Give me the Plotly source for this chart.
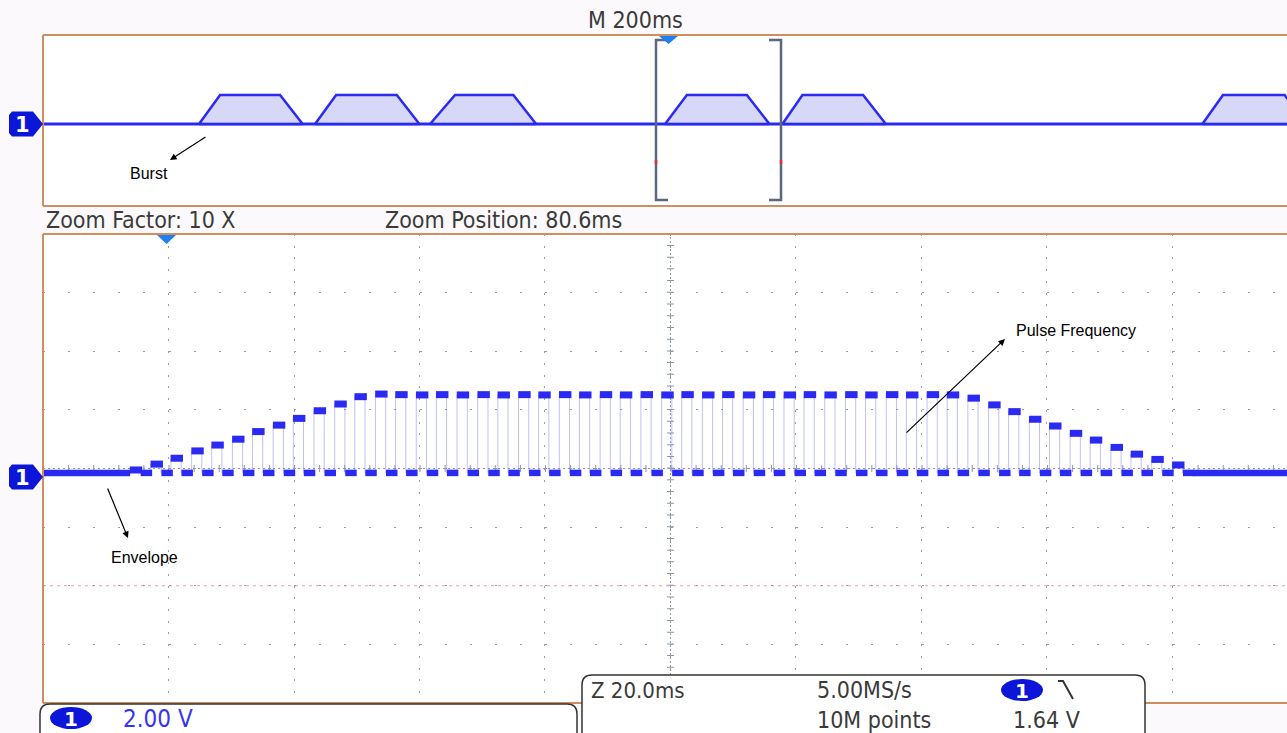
import plotly.graph_objects as go

W, H = 1287, 733

# ---------------- data ----------------
# Main (top) window, 200 ms/div, times in ms relative to trigger
burst_rise_start_ms = [-747.4, -562.5, -379.3, -4.8, 182.1, 851.2]
burst_top_start_ms = [-713.9, -529.0, -339.5, 29.8, 214.0, 884.0]
burst_top_end_ms = [-618.3, -432.3, -246.6, 125.4, 310.6, 982.4]
burst_fall_end_ms = [-582.3, -396.3, -210.4, 161.5, 346.8, 1015.9]
burst_high_v = 2.51
baseline_v = -0.15

# Zoom window (20 ms/div): centre time of each pulse (ms) and its high level (V)
pulse_time_ms = [-4.7, -1.4, 1.8, 5.1, 8.3, 11.6, 14.8, 18.1, 21.3, 24.6,
                 27.9, 31.1, 34.4, 37.6, 40.9, 44.1, 47.4, 50.7, 53.9, 57.2,
                 60.4, 63.7, 66.9, 70.2, 73.4, 76.7, 80.0, 83.2, 86.5, 89.7,
                 93.0, 96.2, 99.5, 102.7, 106.0, 109.3, 112.5, 115.8, 119.0, 122.3,
                 125.5, 128.8, 132.1, 135.3, 138.6, 141.8, 145.1, 148.3, 151.6, 154.8,
                 158.1, 161.4]
pulse_high_v = [-0.05, 0.15, 0.35, 0.60, 0.80, 1.00, 1.26, 1.48, 1.71, 1.97,
                2.20, 2.45, 2.54, 2.52, 2.51, 2.52, 2.51, 2.52, 2.51, 2.52,
                2.51, 2.52, 2.51, 2.52, 2.51, 2.52, 2.51, 2.52, 2.51, 2.52,
                2.51, 2.52, 2.51, 2.52, 2.51, 2.52, 2.51, 2.52, 2.51, 2.52,
                2.51, 2.40, 2.17, 1.94, 1.68, 1.45, 1.20, 0.97, 0.72, 0.49,
                0.31, 0.12]
pulse_period_ms = 3.256

top_range_ms = [-996, 986]
zoom_range_ms = [-19.4, 178.85]
zoom_center_ms = 80.6

# ---------------- helpers ----------------
def X(px):
    return px / W


def Y(py):
    return 1 - py / H


BLUE = '#2a2af2'
ORANGE = '#cf8e60'
TXT = '#3a3a3a'
SCOPE_FONT = 'DejaVu Sans Condensed, Liberation Sans Narrow, DejaVu Sans, sans-serif'

fig = go.Figure()

# ---------------- top window ----------------
fig.add_trace(go.Scatter(x=top_range_ms, y=[baseline_v, baseline_v], mode='lines',
                         line=dict(color=BLUE, width=3), xaxis='x', yaxis='y',
                         hoverinfo='skip'))
bx, by = [], []
for s, ts, te, e in zip(burst_rise_start_ms, burst_top_start_ms, burst_top_end_ms, burst_fall_end_ms):
    bx += [s, ts, te, e, s, None]
    by += [baseline_v, burst_high_v, burst_high_v, baseline_v, baseline_v, None]
fig.add_trace(go.Scatter(x=bx, y=by, mode='lines', fill='toself',
                         fillcolor='rgba(208,208,246,0.85)',
                         line=dict(color=BLUE, width=2.5), xaxis='x', yaxis='y',
                         hoverinfo='skip'))

# ---------------- zoom window ----------------
q = pulse_period_ms / 4
x0, x1 = zoom_range_ms
thin_x, thin_y = [x0], [baseline_v]
hi_x, hi_y, lo_x, lo_y = [], [], [], []
for c, h in zip(pulse_time_ms, pulse_high_v):
    thin_x += [c - q, c - q, c + q, c + q]
    thin_y += [baseline_v, h, h, baseline_v]
    hi_x += [c - q - 0.05, c + q + 0.3, None]
    hi_y += [h, h, None]
    lo_x += [c + q + 0.05, c + 3 * q + 0.25, None]
    lo_y += [baseline_v, baseline_v, None]
thin_x.append(x1)
thin_y.append(baseline_v)
lo_x += [x0, pulse_time_ms[0] - q, None, pulse_time_ms[-1] + 3 * q, x1]
lo_y += [baseline_v, baseline_v, None, baseline_v, baseline_v]

fig.add_trace(go.Scatter(x=thin_x, y=thin_y, mode='lines',
                         line=dict(color='rgba(130,130,250,0.5)', width=1),
                         xaxis='x2', yaxis='y2', hoverinfo='skip'))
fig.add_trace(go.Scatter(x=lo_x, y=lo_y, mode='lines',
                         line=dict(color=BLUE, width=6.5), xaxis='x2', yaxis='y2',
                         hoverinfo='skip'))
fig.add_trace(go.Scatter(x=hi_x, y=hi_y, mode='lines',
                         line=dict(color=BLUE, width=7), xaxis='x2', yaxis='y2',
                         hoverinfo='skip'))

# ---------------- shapes ----------------
shapes = []
GRIDC = '#9a9aa0'
# centre cross lines
shapes.append(dict(type='line', xref='x2', yref='y2', x0=zoom_center_ms, x1=zoom_center_ms,
                   y0=-8, y1=8, layer='below', line=dict(color='#8a94b4', width=1, dash='2px,2px')))
shapes.append(dict(type='line', xref='x2', yref='y2', x0=zoom_center_ms, x1=zoom_center_ms,
                   y0=-8, y1=8, layer='below', line=dict(color='#8a94b4', width=7, dash='1px,10.72px')))
shapes.append(dict(type='line', xref='x2', yref='y2', x0=x0, x1=x1, y0=0, y1=0,
                   layer='below', line=dict(color='#8a94b4', width=1, dash='2px,3px')))
shapes.append(dict(type='line', xref='x2', yref='y2', x0=x0, x1=x1, y0=0, y1=0,
                   layer='below', line=dict(color='#8a94b4', width=7, dash='1px,24.1px')))
# reddish reference row
shapes.append(dict(type='line', xref='x2', yref='y2', x0=x0, x1=x1, y0=-4, y1=-4,
                   layer='below', line=dict(color='#e8a0a0', width=1, dash='3px,4px')))

# panel borders
for (ya, yb) in [(35, 206), (234, 703)]:
    shapes.append(dict(type='line', xref='paper', yref='paper', x0=X(43), x1=1, y0=Y(ya), y1=Y(ya),
                       line=dict(color=ORANGE, width=2)))
    shapes.append(dict(type='line', xref='paper', yref='paper', x0=X(43), x1=1, y0=Y(yb), y1=Y(yb),
                       line=dict(color=ORANGE, width=2)))
    shapes.append(dict(type='line', xref='paper', yref='paper', x0=X(43), x1=X(43), y0=Y(ya), y1=Y(yb),
                       line=dict(color=ORANGE, width=2)))


def path(pts, close=True):
    s = 'M ' + ' L '.join(f'{X(a):.5f},{Y(b):.5f}' for a, b in pts)
    return s + (' Z' if close else '')


# zoom brackets in top window
BR = '#5b6683'
shapes.append(dict(type='path', xref='paper', yref='paper',
                   path=path([(668, 40), (656, 40), (656, 200), (668, 200)], close=False),
                   line=dict(color=BR, width=2.5)))
shapes.append(dict(type='path', xref='paper', yref='paper',
                   path=path([(769, 40), (781, 40), (781, 200), (769, 200)], close=False),
                   line=dict(color=BR, width=2.5)))
for bxp in (656, 781):
    shapes.append(dict(type='line', xref='paper', yref='paper', x0=X(bxp), x1=X(bxp),
                       y0=Y(160), y1=Y(164), line=dict(color='#e03030', width=2.5)))

# trigger markers
TRIG = '#1f80f0'
shapes.append(dict(type='path', xref='paper', yref='paper',
                   path=path([(659, 36), (678, 36), (668.5, 44)]), fillcolor=TRIG, line=dict(width=0)))
shapes.append(dict(type='path', xref='paper', yref='paper',
                   path=path([(157, 235), (176, 235), (166.5, 244)]), fillcolor=TRIG, line=dict(width=0)))

# channel markers
CH = '#0b16d8'
for cy in (124, 477):
    shapes.append(dict(type='path', xref='paper', yref='paper',
                       path=path([(12, cy - 12.5), (33, cy - 12.5), (43, cy), (33, cy + 12.5),
                                  (12, cy + 12.5), (9, cy + 9), (9, cy - 9)]),
                       fillcolor=CH, line=dict(width=0)))


# info boxes (rounded)
def rbox(l, t, r, b, rad):
    rx, ry = rad / W, rad / H
    L, T, R, B = X(l), Y(t), X(r), Y(b)
    return (f'M {L + rx:.5f},{T:.5f} L {R - rx:.5f},{T:.5f} Q {R:.5f},{T:.5f} {R:.5f},{T - ry:.5f} '
            f'L {R:.5f},{B + ry:.5f} Q {R:.5f},{B:.5f} {R - rx:.5f},{B:.5f} '
            f'L {L + rx:.5f},{B:.5f} Q {L:.5f},{B:.5f} {L:.5f},{B + ry:.5f} '
            f'L {L:.5f},{T - ry:.5f} Q {L:.5f},{T:.5f} {L + rx:.5f},{T:.5f} Z')


shapes.append(dict(type='path', xref='paper', yref='paper', path=rbox(40, 704, 577, 745, 10),
                   fillcolor='white', line=dict(color='#333333', width=1.5)))
shapes.append(dict(type='path', xref='paper', yref='paper', path=rbox(582, 675, 1145, 745, 10),
                   fillcolor='white', line=dict(color='#333333', width=1.5)))
# channel ovals
for cx, cy in [(71, 718), (1022, 690)]:
    shapes.append(dict(type='circle', xref='paper', yref='paper', x0=X(cx - 21), x1=X(cx + 21),
                       y0=Y(cy + 11), y1=Y(cy - 11), fillcolor=CH, line=dict(width=0)))
# falling-edge symbol
shapes.append(dict(type='path', xref='paper', yref='paper',
                   path=path([(1058, 681), (1063, 681), (1073, 699)], close=False),
                   line=dict(color='#333333', width=2)))

# ---------------- annotations ----------------
ann = []


def txt(s, px, py, size=23, color=TXT, xanchor='left', family=SCOPE_FONT, bold=False):
    ann.append(dict(text=f'<b>{s}</b>' if bold else s, x=X(px), y=Y(py), xref='paper', yref='paper',
                    xanchor=xanchor, yanchor='middle', showarrow=False,
                    font=dict(family=family, size=size, color=color)))


txt('M 200ms', 635, 20, xanchor='center')
txt('Zoom Factor: 10 X', 44, 220)
txt('Zoom Position: 80.6ms', 383, 220)
txt('2.00 V', 121, 719, color='#3535f0', size=24)
txt('Z 20.0ms', 589, 690, size=22)
txt('5.00MS/s', 815, 690, size=23)
txt('10M points', 815, 720, size=23)
txt('1.64 V', 1011, 720, size=23)
for cx, cy in [(71, 719), (1022, 691)]:
    txt('1', cx, cy, size=20, color='white', xanchor='center', family='DejaVu Sans', bold=True)
for cy in (125, 478):
    txt('1', 22, cy, size=21, color='white', xanchor='center', family='DejaVu Sans', bold=True)

LAB = 'Liberation Sans, Arial, sans-serif'
txt('Burst', 149, 174, size=16, color='black', xanchor='center', family=LAB)
txt('Envelope', 144, 557, size=16, color='black', xanchor='center', family=LAB)
txt('Pulse Frequency', 1076, 331, size=16, color='black', xanchor='center', family=LAB)

for (hx, hy, tx, ty) in [(170, 160, 207, 136), (128, 538, 107, 487), (1005, 339, 905, 434)]:
    ann.append(dict(x=X(hx), y=Y(hy), xref='paper', yref='paper', text='', showarrow=True,
                    ax=tx - hx, ay=ty - hy, arrowhead=2, arrowsize=1.1, arrowwidth=1.2,
                    arrowcolor='black', standoff=0))

# ---------------- layout ----------------
fig.update_layout(
    width=W, height=H, margin=dict(l=0, r=0, t=0, b=0),
    paper_bgcolor='#fbf9fb', plot_bgcolor='white', showlegend=False, hovermode=False,
    xaxis=dict(domain=[X(43), 1], range=top_range_ms, visible=False, anchor='y'),
    yaxis=dict(domain=[Y(206), Y(35)], range=[-7.67, 8.02], visible=False, anchor='x'),
    xaxis2=dict(domain=[X(43), 1], range=zoom_range_ms, anchor='y2', showgrid=True,
                tick0=0.6, dtick=20, gridcolor=GRIDC, gridwidth=1, griddash='2px,9.72px',
                showticklabels=False, zeroline=False, ticks='', showline=False),
    yaxis2=dict(domain=[Y(703), Y(234)], range=[-8, 8], anchor='x2', showgrid=True,
                tick0=0, dtick=2, gridcolor=GRIDC, gridwidth=1, griddash='2px,23.1px',
                showticklabels=False, zeroline=False, ticks='', showline=False),
    shapes=shapes, annotations=ann,
)

fig.write_html('out.html', config={'displayModeBar': False},
               post_script="document.body.style.margin='0';document.body.style.overflow='hidden';")
